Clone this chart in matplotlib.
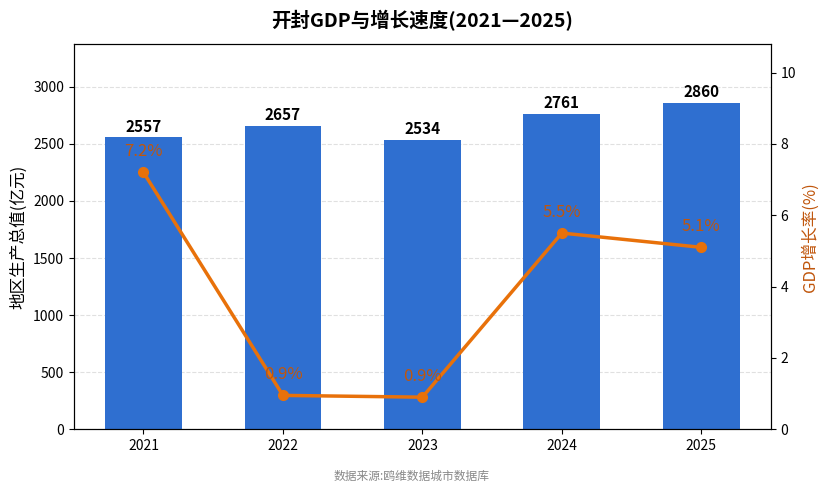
import matplotlib
matplotlib.use("Agg")
import matplotlib.pyplot as plt
import numpy as np

plt.rcParams["font.family"] = ["Noto Sans CJK SC", "DejaVu Sans"]
plt.rcParams["axes.unicode_minus"] = False

years = ["2021", "2022", "2023", "2024", "2025"]
gdp = [2557, 2657, 2534, 2761, 2860]
growth = [7.2, 0.95, 0.9, 5.5, 5.1]
growth_labels = ["7.2%", "0.9%", "0.9%", "5.5%", "5.1%"]

bar_color = "#2F6FD0"
line_color = "#E8710A"
text_orange = "#C0560C"

fig, ax = plt.subplots(figsize=(8.29, 4.94), dpi=100)
fig.subplots_adjust(left=0.089, right=0.930, top=0.911, bottom=0.131)

x = np.arange(len(years))
bars = ax.bar(x, gdp, width=0.55, color=bar_color, zorder=2)
for b, v in zip(bars, gdp):
    ax.annotate(f"{v}", (b.get_x() + b.get_width() / 2, v),
                xytext=(0, 2), textcoords="offset points",
                ha="center", va="bottom", fontsize=11, fontweight="bold")

ax.set_ylim(0, max(gdp) * 1.18)
ax.set_xlim(-0.5, len(years) - 0.5)
ax.set_xticks(x)
ax.set_xticklabels(years)
ax.set_ylabel("地区生产总值(亿元)", fontsize=12)
ax.grid(axis="y", linestyle="--", color="#e0e0e0", linewidth=0.8, zorder=0)
ax.set_axisbelow(True)
ax.tick_params(labelsize=10)

ax2 = ax.twinx()
ax2.plot(x, growth, color=line_color, linewidth=2.5, marker="o",
         markersize=7, zorder=3)
for xi, g, lab in zip(x, growth, growth_labels):
    ax2.annotate(lab, (xi, g), xytext=(0, 9), textcoords="offset points",
                 ha="center", va="bottom", fontsize=12, color=text_orange)
ax2.set_ylim(0, max(growth) * 1.5)
ax2.set_ylabel("GDP增长率(%)", fontsize=12, color=text_orange)
ax2.tick_params(labelsize=10)

ax.set_title("开封GDP与增长速度(2021—2025)", fontsize=14, fontweight="bold", pad=12)
fig.text(0.497, 0.036, "数据来源:鸥维数据城市数据库", ha="center", va="center",
         fontsize=8.5, color="#888888")

fig.savefig("out.png", dpi=100)
